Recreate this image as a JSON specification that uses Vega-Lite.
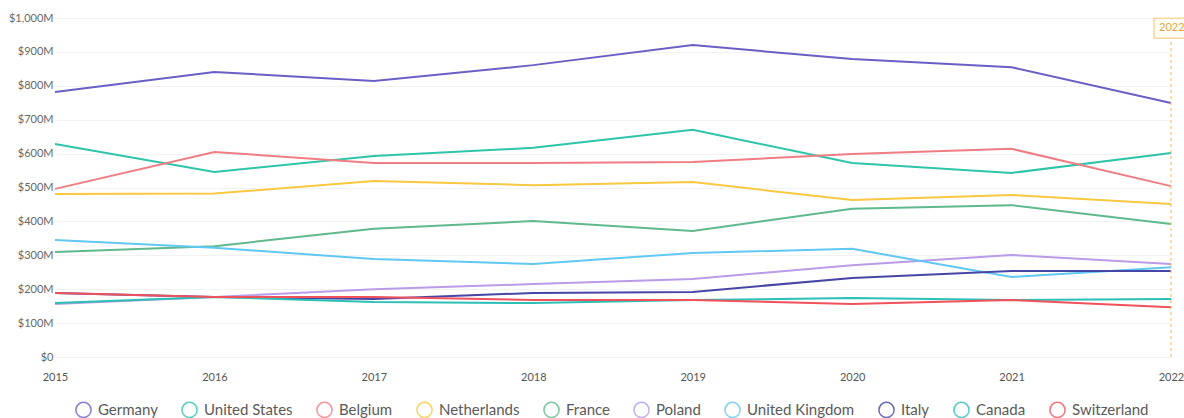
{
  "$schema": "https://vega.github.io/schema/vega-lite/v6.json",
  "width": 1116,
  "height": 339,
  "autosize": {"type": "none"},
  "padding": {"left": 55, "top": 18, "right": 13, "bottom": 61},
  "background": "white",
  "config": {
    "view": {"stroke": null},
    "font": "Lato",
    "axis": {"labelFont": "Lato", "labelColor": "#666666", "labelFontSize": 11}
  },
  "datasets": {
    "series": [
      {"year": "2015", "country": "Germany", "value": 782},
      {"year": "2016", "country": "Germany", "value": 841},
      {"year": "2017", "country": "Germany", "value": 814},
      {"year": "2018", "country": "Germany", "value": 861},
      {"year": "2019", "country": "Germany", "value": 920},
      {"year": "2020", "country": "Germany", "value": 879},
      {"year": "2021", "country": "Germany", "value": 855},
      {"year": "2022", "country": "Germany", "value": 749},
      {"year": "2015", "country": "United States", "value": 628},
      {"year": "2016", "country": "United States", "value": 546},
      {"year": "2017", "country": "United States", "value": 593},
      {"year": "2018", "country": "United States", "value": 617},
      {"year": "2019", "country": "United States", "value": 670},
      {"year": "2020", "country": "United States", "value": 572},
      {"year": "2021", "country": "United States", "value": 543},
      {"year": "2022", "country": "United States", "value": 602},
      {"year": "2015", "country": "Belgium", "value": 496},
      {"year": "2016", "country": "Belgium", "value": 605},
      {"year": "2017", "country": "Belgium", "value": 572},
      {"year": "2018", "country": "Belgium", "value": 572},
      {"year": "2019", "country": "Belgium", "value": 575},
      {"year": "2020", "country": "Belgium", "value": 599},
      {"year": "2021", "country": "Belgium", "value": 614},
      {"year": "2022", "country": "Belgium", "value": 504},
      {"year": "2015", "country": "Netherlands", "value": 481},
      {"year": "2016", "country": "Netherlands", "value": 482},
      {"year": "2017", "country": "Netherlands", "value": 519},
      {"year": "2018", "country": "Netherlands", "value": 507},
      {"year": "2019", "country": "Netherlands", "value": 516},
      {"year": "2020", "country": "Netherlands", "value": 463},
      {"year": "2021", "country": "Netherlands", "value": 478},
      {"year": "2022", "country": "Netherlands", "value": 451},
      {"year": "2015", "country": "France", "value": 310},
      {"year": "2016", "country": "France", "value": 327},
      {"year": "2017", "country": "France", "value": 378},
      {"year": "2018", "country": "France", "value": 401},
      {"year": "2019", "country": "France", "value": 372},
      {"year": "2020", "country": "France", "value": 437},
      {"year": "2021", "country": "France", "value": 448},
      {"year": "2022", "country": "France", "value": 392},
      {"year": "2015", "country": "Poland", "value": 156},
      {"year": "2016", "country": "Poland", "value": 177},
      {"year": "2017", "country": "Poland", "value": 200},
      {"year": "2018", "country": "Poland", "value": 215},
      {"year": "2019", "country": "Poland", "value": 230},
      {"year": "2020", "country": "Poland", "value": 271},
      {"year": "2021", "country": "Poland", "value": 301},
      {"year": "2022", "country": "Poland", "value": 274},
      {"year": "2015", "country": "United Kingdom", "value": 345},
      {"year": "2016", "country": "United Kingdom", "value": 322},
      {"year": "2017", "country": "United Kingdom", "value": 289},
      {"year": "2018", "country": "United Kingdom", "value": 274},
      {"year": "2019", "country": "United Kingdom", "value": 307},
      {"year": "2020", "country": "United Kingdom", "value": 319},
      {"year": "2021", "country": "United Kingdom", "value": 236},
      {"year": "2022", "country": "United Kingdom", "value": 265},
      {"year": "2015", "country": "Italy", "value": 189},
      {"year": "2016", "country": "Italy", "value": 177},
      {"year": "2017", "country": "Italy", "value": 171},
      {"year": "2018", "country": "Italy", "value": 189},
      {"year": "2019", "country": "Italy", "value": 192},
      {"year": "2020", "country": "Italy", "value": 233},
      {"year": "2021", "country": "Italy", "value": 254},
      {"year": "2022", "country": "Italy", "value": 254},
      {"year": "2015", "country": "Canada", "value": 159},
      {"year": "2016", "country": "Canada", "value": 177},
      {"year": "2017", "country": "Canada", "value": 162},
      {"year": "2018", "country": "Canada", "value": 159},
      {"year": "2019", "country": "Canada", "value": 168},
      {"year": "2020", "country": "Canada", "value": 174},
      {"year": "2021", "country": "Canada", "value": 168},
      {"year": "2022", "country": "Canada", "value": 171},
      {"year": "2015", "country": "Switzerland", "value": 189},
      {"year": "2016", "country": "Switzerland", "value": 177},
      {"year": "2017", "country": "Switzerland", "value": 177},
      {"year": "2018", "country": "Switzerland", "value": 168},
      {"year": "2019", "country": "Switzerland", "value": 168},
      {"year": "2020", "country": "Switzerland", "value": 156},
      {"year": "2021", "country": "Switzerland", "value": 168},
      {"year": "2022", "country": "Switzerland", "value": 147}
    ],
    "marker": [{"year": "2022", "label": "2022", "value": 970}]
  },
  "layer": [
    {
      "data": {"name": "series"},
      "mark": {"type": "line", "strokeWidth": 2},
      "encoding": {
        "x": {
          "field": "year", "type": "ordinal",
          "scale": {"type": "point", "padding": 0},
          "axis": {"title": null, "labelAngle": 0, "ticks": false, "domain": false, "grid": false, "labelPadding": 14, "labelFontSize": 11, "labelColor": "#555555"}
        },
        "y": {
          "field": "value", "type": "quantitative",
          "scale": {"domain": [0, 1000], "nice": false},
          "axis": {
            "title": null, "ticks": false, "domain": false,
            "values": [0, 100, 200, 300, 400, 500, 600, 700, 800, 900, 1000],
            "labelOverlap": false,
            "gridColor": "#f2f2f2", "gridWidth": 1,
            "labelPadding": 2,
            "labelExpr": "datum.value == 0 ? '$0' : '$' + format(datum.value, ',') + 'M'"
          }
        },
        "color": {
          "field": "country", "type": "nominal",
          "scale": {
            "domain": ["Germany", "United States", "Belgium", "Netherlands", "France", "Poland", "United Kingdom", "Italy", "Canada", "Switzerland"],
            "range": ["#6a5fc4", "#2ec4a9", "#f07c84", "#f9c840", "#5fb98c", "#b99be8", "#60c8f2", "#4746a6", "#2bbfb5", "#f0525c"]
          },
          "legend": {
            "title": null, "orient": "none", "direction": "horizontal", "columns": 10,
            "legendX": 20, "legendY": 383,
            "symbolType": "circle", "symbolSize": 230, "symbolFillColor": "transparent", "symbolStrokeWidth": 1.5, "symbolOpacity": 0.8,
            "labelFont": "Lato", "labelFontSize": 15, "labelColor": "#5a5a5a", "labelOffset": 6,
            "columnPadding": 20
          }
        }
      }
    },
    {
      "data": {"name": "marker"},
      "mark": {"type": "rule", "stroke": "#f7b955", "strokeDash": [3, 3], "strokeWidth": 1},
      "encoding": {
        "x": {
          "field": "year", "type": "ordinal",
          "scale": {"type": "point", "padding": 0},
          "axis": {"title": null, "labelAngle": 0, "ticks": false, "domain": false, "grid": false, "labelPadding": 14, "labelFontSize": 11, "labelColor": "#555555"}
        }
      }
    },
    {
      "data": {"name": "marker"},
      "mark": {"type": "rect", "width": 34, "height": 20, "fill": "#fffdf6", "stroke": "#f7c46a", "strokeWidth": 1},
      "encoding": {
        "x": {
          "field": "year", "type": "ordinal",
          "scale": {"type": "point", "padding": 0},
          "axis": {"title": null, "labelAngle": 0, "ticks": false, "domain": false, "grid": false, "labelPadding": 14, "labelFontSize": 11, "labelColor": "#555555"}
        },
        "y": {
          "field": "value", "type": "quantitative",
          "scale": {"domain": [0, 1000], "nice": false},
          "axis": {
            "title": null, "ticks": false, "domain": false,
            "values": [0, 100, 200, 300, 400, 500, 600, 700, 800, 900, 1000],
            "labelOverlap": false,
            "gridColor": "#f2f2f2", "gridWidth": 1,
            "labelPadding": 2,
            "labelExpr": "datum.value == 0 ? '$0' : '$' + format(datum.value, ',') + 'M'"
          }
        }
      }
    },
    {
      "data": {"name": "marker"},
      "mark": {"type": "text", "align": "left", "dx": -12, "fontSize": 11, "color": "#e0a84a", "font": "Lato"},
      "encoding": {
        "x": {
          "field": "year", "type": "ordinal",
          "scale": {"type": "point", "padding": 0},
          "axis": {"title": null, "labelAngle": 0, "ticks": false, "domain": false, "grid": false, "labelPadding": 14, "labelFontSize": 11, "labelColor": "#555555"}
        },
        "y": {
          "field": "value", "type": "quantitative",
          "scale": {"domain": [0, 1000], "nice": false},
          "axis": {
            "title": null, "ticks": false, "domain": false,
            "values": [0, 100, 200, 300, 400, 500, 600, 700, 800, 900, 1000],
            "labelOverlap": false,
            "gridColor": "#f2f2f2", "gridWidth": 1,
            "labelPadding": 2,
            "labelExpr": "datum.value == 0 ? '$0' : '$' + format(datum.value, ',') + 'M'"
          }
        },
        "text": {"field": "label"}
      }
    }
  ]
}
